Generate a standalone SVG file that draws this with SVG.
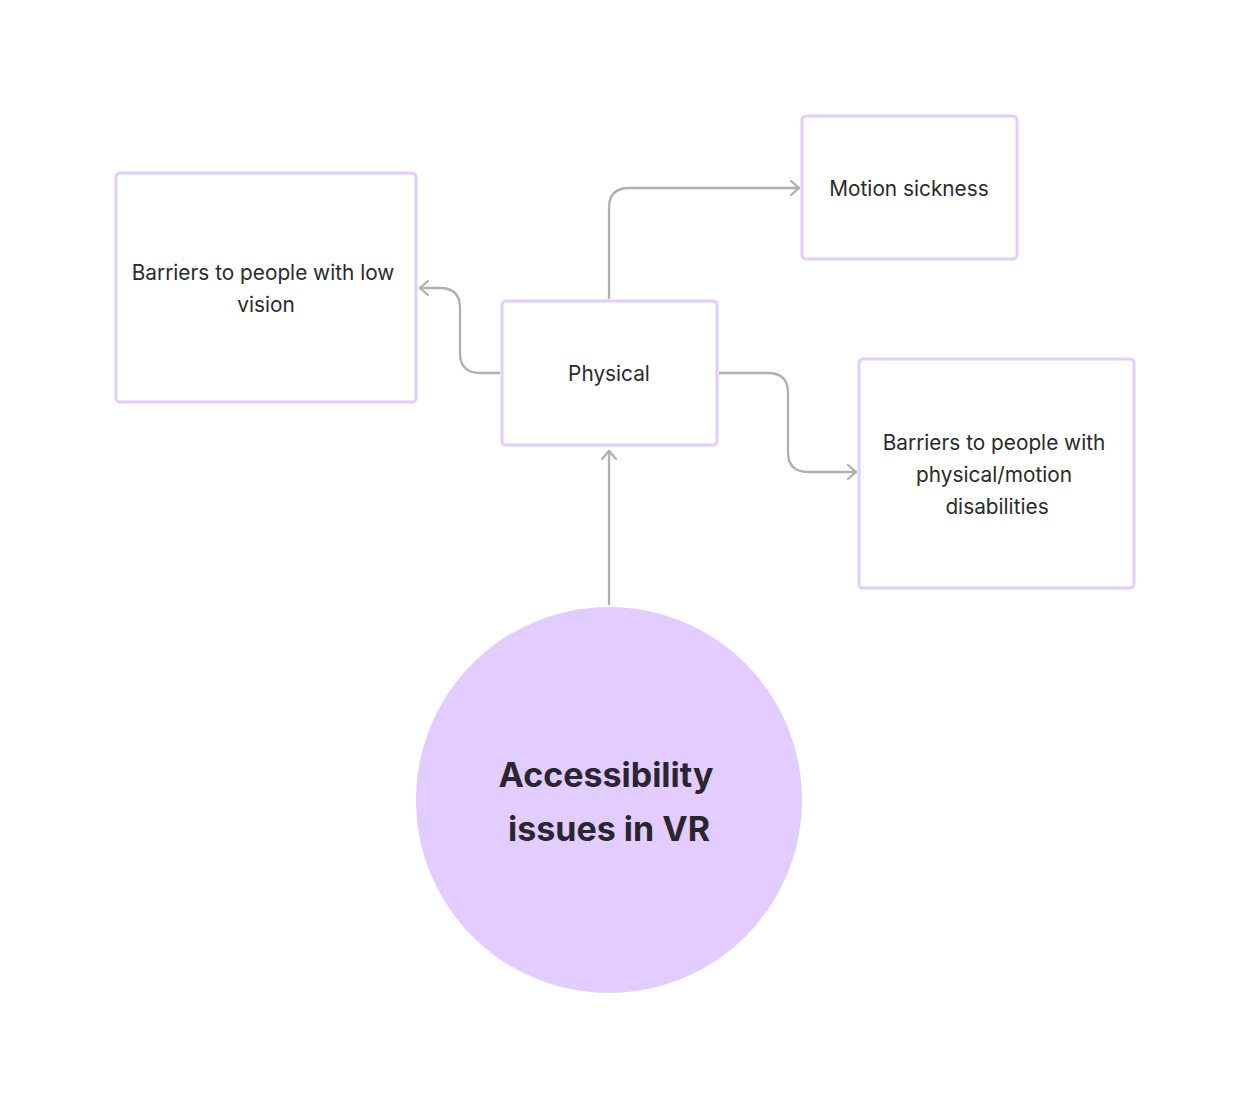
<svg xmlns="http://www.w3.org/2000/svg" width="1250" height="1108" viewBox="0 0 1250 1108">
<defs>
<marker id="arr" viewBox="0 0 12 16" refX="11" refY="8" markerWidth="12" markerHeight="16" markerUnits="userSpaceOnUse" orient="auto">
<path d="M2,1 L10,8 L2,15" fill="none" stroke="#b0b0b0" stroke-width="2.3" stroke-linecap="round" stroke-linejoin="round"/>
</marker>
</defs>
<style>
.box{fill:#ffffff;stroke:#e3ccff;stroke-width:3}
.t{font-family:Inter,"Noto Sans",sans-serif;font-size:20.8px;fill:#2a2a2a;text-anchor:middle}
.title{font-family:Inter,"Noto Sans",sans-serif;font-size:34px;font-weight:bold;fill:#2a2630;text-anchor:middle}
.c{fill:none;stroke:#b0b0b0;stroke-width:2.3;marker-end:url(#arr)}
</style>
<rect width="1250" height="1108" fill="#ffffff"/>
<g id="connectors">
<path class="c" d="M609,605 L609,450"/>
<path class="c" d="M609,299 L609,208 Q609,188 629,188 L800,188"/>
<path class="c" d="M500,373 L480,373 Q460,373 460,353 L460,308 Q460,288 440,288 L419,288"/>
<path class="c" d="M719,373 L768,373 Q788,373 788,393 L788,452 Q788,472 808,472 L857,472"/>
</g>
<g id="node-physical">
<rect class="box" x="502" y="301" width="215" height="144" rx="4"/>
<text class="t" x="609" y="381">Physical</text>
</g>
<g id="node-lowvision">
<rect class="box" x="116" y="173" width="300" height="229" rx="4"/>
<text class="t" x="263" y="280">Barriers to people with low</text>
<text class="t" x="266" y="312">vision</text>
</g>
<g id="node-motion">
<rect class="box" x="802" y="116" width="215" height="143" rx="4"/>
<text class="t" x="909" y="196">Motion sickness</text>
</g>
<g id="node-physmotion">
<rect class="box" x="859" y="359" width="275" height="229" rx="4"/>
<text class="t" x="994" y="450">Barriers to people with</text>
<text class="t" x="994" y="482">physical/motion</text>
<text class="t" x="997" y="514">disabilities</text>
</g>
<g id="node-root">
<circle cx="609" cy="800" r="193" fill="#e3ccff"/>
<text class="title" x="606" y="787">Accessibility</text>
<text class="title" x="609" y="841">issues in VR</text>
</g>
</svg>
